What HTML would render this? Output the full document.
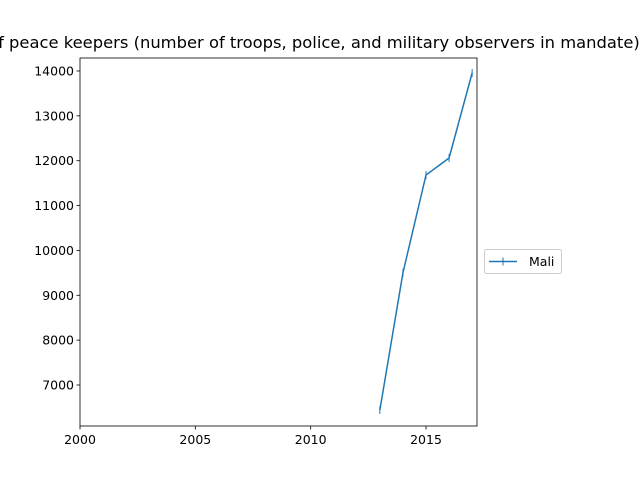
<!DOCTYPE html>
<html><head><meta charset="utf-8"><style>
body{margin:0;background:#fff;overflow:hidden;}
svg text{font-family:"DejaVu Sans","Liberation Sans",sans-serif;font-size:12.5px;fill:#000;}
</style></head><body>
<svg id="chart" width="640" height="480">
<text x="278.5" y="48" text-anchor="middle" style="font-size:16.35px">Number of peace keepers (number of troops, police, and military observers in mandate)</text>
<g id="plot"></g>
</svg>
<script>
const years = [2013, 2014, 2015, 2016, 2017];
const values = [6443, 9500, 11680, 12060, 13955];
const xTicks = [2000, 2005, 2010, 2015];
const yTicks = [7000, 8000, 9000, 10000, 11000, 12000, 13000, 14000];
const seriesName = "Mali";
const L=80,R=477,T=58,B=426;
const x = v => L + (v-2000)*(346/15);
const y = v => 385 - (v-7000)*0.04486;
const ns="http://www.w3.org/2000/svg";
const g=document.getElementById('plot');
function mk(t,a){const e=document.createElementNS(ns,t);for(const k in a)e.setAttribute(k,a[k]);g.appendChild(e);return e;}
xTicks.forEach(t=>{
 const l=mk('line',{x1:x(t),x2:x(t),y1:B,y2:B+3.5,stroke:'#000','stroke-width':0.8});
 
 
 const tx=mk('text',{x:x(t),y:B+18,'text-anchor':'middle'});tx.textContent=t;
 
 
});
yTicks.forEach(t=>{
 const l=mk('line',{x1:L-3.5,x2:L,y1:y(t),y2:y(t),stroke:'#000','stroke-width':0.8});
 
 
 const tx=mk('text',{x:L-6,y:y(t)+4.5,'text-anchor':'end'});tx.textContent=t;
 
 
});
const pts=years.map((yr,i)=>x(yr)+','+y(values[i])).join(' ');
const pl=mk('polyline',{points:pts,fill:'none',stroke:'#1f77b4','stroke-width':1.5});


years.forEach((yr,i)=>{
 const m=mk('line',{x1:x(yr),x2:x(yr),y1:y(values[i])-4,y2:y(values[i])+4,stroke:'#1f77b4','stroke-width':1});
 
 
});
const fr=mk('rect',{x:L,y:T,width:R-L,height:B-T,fill:'none',stroke:'#000','stroke-width':0.8});


const lg=mk('rect',{x:484.5,y:249.5,width:77,height:24,rx:2,fill:'#fff',stroke:'#ccc','stroke-width':1});


const ll=mk('line',{x1:489,x2:517,y1:261.5,y2:261.5,stroke:'#1f77b4','stroke-width':1.5});


const lm=mk('line',{x1:503,x2:503,y1:257.5,y2:265.5,stroke:'#1f77b4','stroke-width':1});


const lt=mk('text',{x:529,y:266});lt.textContent=seriesName;


</script>
</body></html>
